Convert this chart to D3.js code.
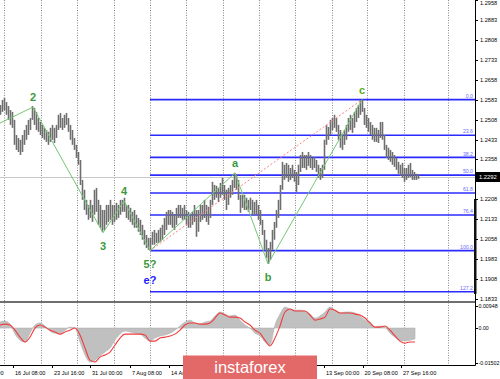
<!DOCTYPE html>
<html><head><meta charset="utf-8">
<script src="https://cdn.jsdelivr.net/npm/d3@7"></script>
<style>body{margin:0;background:#fff}svg{display:block}text{font-family:"Liberation Sans",Arial,sans-serif}</style>
</head><body><svg id="c" width="500" height="379"></svg>
<script>
// H4 bars (every 2nd bar sampled), high / low prices
const barHigh = [
1.2563,1.2582,1.2590,1.2574,1.2559,1.2544,1.2537,1.2507,1.2450,1.2439,
1.2432,1.2450,1.2469,1.2488,1.2507,1.2514,1.2559,1.2552,1.2537,1.2514,
1.2499,1.2488,1.2477,1.2469,1.2462,1.2477,1.2488,1.2477,1.2488,1.2526,
1.2533,1.2514,1.2526,1.2533,1.2514,1.2488,1.2469,1.2439,1.2413,1.2386,
1.2356,1.2281,1.2244,1.2206,1.2187,1.2206,1.2187,1.2244,1.2251,1.2206,
1.2187,1.2168,1.2168,1.2187,1.2187,1.2206,1.2187,1.2187,1.2195,1.2187,
1.2206,1.2206,1.2214,1.2187,1.2187,1.2176,1.2161,1.2168,1.2150,1.2138,
1.2131,1.2112,1.2093,1.2074,1.2063,1.2063,1.2086,1.2093,1.2082,1.2093,
1.2101,1.2112,1.2138,1.2161,1.2168,1.2168,1.2161,1.2150,1.2176,1.2187,
1.2187,1.2176,1.2187,1.2168,1.2161,1.2150,1.2161,1.2187,1.2168,1.2168,
1.2187,1.2187,1.2206,1.2187,1.2180,1.2206,1.2274,1.2262,1.2259,1.2251,
1.2270,1.2289,1.2262,1.2244,1.2251,1.2262,1.2281,1.2308,1.2300,1.2281,
1.2225,1.2225,1.2225,1.2214,1.2206,1.2214,1.2206,1.2198,1.2206,1.2187,
1.2168,1.2131,1.2093,1.2056,1.2025,1.2048,1.2093,1.2123,1.2168,1.2206,
1.2262,1.2349,1.2338,1.2345,1.2338,1.2326,1.2338,1.2319,1.2311,1.2338,
1.2375,1.2386,1.2375,1.2375,1.2386,1.2375,1.2364,1.2368,1.2356,1.2338,
1.2326,1.2338,1.2432,1.2488,1.2480,1.2507,1.2514,1.2526,1.2514,1.2488,
1.2469,1.2450,1.2469,1.2488,1.2514,1.2526,1.2514,1.2537,1.2552,1.2563,
1.2582,1.2583,1.2552,1.2526,1.2514,1.2499,1.2488,1.2477,1.2477,1.2469,
1.2499,1.2499,1.2450,1.2413,1.2402,1.2394,1.2386,1.2375,1.2364,1.2349,
1.2338,1.2345,1.2326,1.2326,1.2338,1.2345,1.2319,1.2311,1.2304,1.2300];
const barLow = [
1.2526,1.2537,1.2544,1.2526,1.2507,1.2488,1.2477,1.2413,1.2394,1.2386,
1.2375,1.2386,1.2413,1.2432,1.2450,1.2469,1.2507,1.2488,1.2469,1.2462,
1.2450,1.2439,1.2432,1.2424,1.2413,1.2424,1.2432,1.2420,1.2439,1.2469,
1.2477,1.2469,1.2477,1.2488,1.2462,1.2432,1.2413,1.2394,1.2364,1.2338,
1.2262,1.2206,1.2168,1.2150,1.2131,1.2138,1.2123,1.2150,1.2161,1.2112,
1.2101,1.2086,1.2093,1.2112,1.2123,1.2131,1.2112,1.2123,1.2131,1.2138,
1.2150,1.2161,1.2161,1.2138,1.2131,1.2123,1.2112,1.2101,1.2101,1.2086,
1.2074,1.2056,1.2037,1.2025,1.2018,1.2014,1.2037,1.2037,1.2044,1.2044,
1.2048,1.2056,1.2074,1.2093,1.2112,1.2112,1.2101,1.2093,1.2112,1.2138,
1.2138,1.2131,1.2131,1.2112,1.2101,1.2101,1.2112,1.2123,1.2067,1.2086,
1.2123,1.2131,1.2138,1.2123,1.2112,1.2138,1.2187,1.2206,1.2214,1.2198,
1.2214,1.2225,1.2206,1.2168,1.2187,1.2214,1.2225,1.2251,1.2244,1.2206,
1.2157,1.2176,1.2168,1.2168,1.2161,1.2168,1.2150,1.2150,1.2150,1.2131,
1.2112,1.2074,1.2018,1.1988,1.1965,1.1980,1.2018,1.2056,1.2101,1.2138,
1.2168,1.2244,1.2281,1.2289,1.2274,1.2281,1.2289,1.2274,1.2236,1.2262,
1.2311,1.2326,1.2326,1.2319,1.2334,1.2326,1.2319,1.2326,1.2311,1.2289,
1.2281,1.2289,1.2319,1.2413,1.2432,1.2450,1.2469,1.2477,1.2462,1.2432,
1.2402,1.2394,1.2413,1.2432,1.2462,1.2469,1.2458,1.2477,1.2499,1.2514,
1.2526,1.2537,1.2488,1.2477,1.2462,1.2450,1.2432,1.2424,1.2424,1.2420,
1.2439,1.2432,1.2394,1.2364,1.2356,1.2349,1.2338,1.2330,1.2319,1.2304,
1.2296,1.2289,1.2274,1.2281,1.2289,1.2292,1.2281,1.2281,1.2281,1.2285];
const barStep = 1;
const currentPrice = 1.2292;

// MACD (sampled every 2.5 bar units)
const macdHist = [
0.0026,0.0030,0.0017,-0.0026,-0.0052,-0.0060,-0.0022,0.0013,0.0022,0.0009,
-0.0013,-0.0022,-0.0022,-0.0009,0.0004,0.0000,-0.0060,-0.0116,-0.0146,-0.0138,
-0.0120,-0.0103,-0.0086,-0.0052,-0.0026,-0.0013,-0.0017,-0.0022,-0.0026,-0.0043,
-0.0056,-0.0043,-0.0034,-0.0030,-0.0022,-0.0009,0.0009,0.0026,0.0034,0.0022,
0.0017,0.0026,0.0030,0.0052,0.0069,0.0060,0.0052,0.0056,0.0034,0.0013,
0.0000,-0.0022,-0.0034,-0.0060,-0.0073,0.0013,0.0060,0.0090,0.0082,0.0077,
0.0077,0.0073,0.0060,0.0043,0.0052,0.0069,0.0090,0.0077,0.0065,0.0069,
0.0069,0.0065,0.0052,0.0034,0.0026,0.0004,0.0009,0.0004,-0.0022,-0.0039,
-0.0052,-0.0056,-0.0052,-0.0047];
const macdSignal = [
0.0013,0.0017,0.0013,-0.0009,-0.0039,-0.0060,-0.0039,0.0000,0.0013,0.0004,
-0.0009,-0.0017,-0.0026,-0.0017,-0.0009,0.0000,-0.0030,-0.0086,-0.0138,-0.0146,
-0.0125,-0.0116,-0.0103,-0.0073,-0.0043,-0.0026,-0.0026,-0.0026,-0.0026,-0.0030,
-0.0056,-0.0056,-0.0043,-0.0039,-0.0034,-0.0026,-0.0009,0.0013,0.0022,0.0022,
0.0017,0.0017,0.0022,0.0043,0.0065,0.0056,0.0047,0.0047,0.0043,0.0026,
0.0013,-0.0009,-0.0022,-0.0052,-0.0077,-0.0043,0.0009,0.0069,0.0082,0.0073,
0.0073,0.0073,0.0056,0.0034,0.0039,0.0047,0.0082,0.0077,0.0065,0.0065,
0.0065,0.0060,0.0056,0.0043,0.0022,0.0004,0.0004,0.0009,-0.0009,-0.0034,
-0.0056,-0.0065,-0.0060,-0.0060];
const macdStep = 2.5;

// Elliott wave points (bar index, price) and labels
const waveIdx   = [0, 16.5, 51.5, 62, 75, 117.5, 134, 181];
const wavePrice = [1.2495, 1.2555, 1.2082, 1.2202, 1.2015, 1.2307, 1.1965, 1.2583];
const waveLabels = ["", "2", "3", "4", "5?", "a", "b", "c"];
const waveLabelPos = ["", "up", "down", "up", "down", "up", "down", "up"];

// Fibonacci
const fibLevels = [0, 23.6, 38.2, 50, 61.8, 76.4, 100, 127.2];
const fibHigh = 1.2583, fibLow = 1.2015, fibStartIdx = 75;

// Axes
const priceTicks = [1.2958,1.2883,1.2808,1.2733,1.2658,1.2583,1.2508,1.2433,1.2358,1.2208,1.2133,1.2058,1.1983,1.1908,1.1833];
const macdTicks = [0.00948, 0.00, -0.01502];
const macdTickLabels = ["0.00948", "0.00", "-0.01502"];
const gridIdx = [2, 20.35, 38.5, 57, 75, 93, 111.5, 129.5, 147.5, 166, 183.5, 202, 224];
const dateIdx = [-1.5, 6.5, 26, 45, 65, 84.5, 162, 181.25, 200.5];
const dateLabels = ["9 Jul 00:00","16 Jul 08:00","23 Jul 16:00","31 Jul 00:00","7 Aug 08:00","14 Aug 16:00","13 Sep 00:00","20 Sep 08:00","27 Sep 16:00"];

const svg = d3.select("#c");
const W = 475, mainB = 301, macdTop = 303, macdB = 365;
const xS = d3.scaleLinear().domain([0, 237.5]).range([0, 475]);
const yS = d3.scaleLinear().domain([1.1833, 1.2958]).range([299, 0]);
const mS = d3.scaleLinear().domain([-0.01502, 0.00948]).range([363, 306]);

svg.append("defs").append("clipPath").attr("id","cm").append("rect").attr("x",0).attr("y",0).attr("width",W).attr("height",mainB);
svg.select("defs").append("clipPath").attr("id","cb").append("rect").attr("x",0).attr("y",macdTop).attr("width",W).attr("height",macdB-macdTop);

// grid
svg.append("g").selectAll("line").data(gridIdx).join("line")
  .attr("x1", d => Math.round(xS(d)) + 0.5).attr("x2", d => Math.round(xS(d)) + 0.5)
  .attr("y1", 0).attr("y2", macdB)
  .attr("stroke", "#8a8a8a").attr("stroke-width", 1).attr("stroke-dasharray", "1,1.5");

const main = svg.append("g").attr("clip-path", "url(#cm)");
main.append("line").attr("x1",0).attr("x2",W).attr("y1",Math.round(yS(currentPrice))+0.5).attr("y2",Math.round(yS(currentPrice))+0.5)
  .attr("stroke","#c8c8c8").attr("stroke-width",1);

const fibPrice = l => fibHigh - (fibHigh - fibLow) * l / 100;
main.append("g").selectAll("line").data(fibLevels).join("line")
  .attr("x1", xS(fibStartIdx)).attr("x2", W)
  .attr("y1", d => yS(fibPrice(d))).attr("y2", d => yS(fibPrice(d)))
  .attr("stroke", "#2b2bff").attr("stroke-width", 1.6);
main.append("g").selectAll("text").data(fibLevels).join("text")
  .attr("x", W - 2).attr("y", d => yS(fibPrice(d)) - 1.8)
  .attr("text-anchor","end").attr("font-size", 5.2).attr("fill", "#6c6cff")
  .text(d => d.toFixed(1));

// bars
main.append("g").selectAll("line").data(barHigh).join("line")
  .attr("x1", (d,i) => xS(i*barStep)+0.5).attr("x2", (d,i) => xS(i*barStep)+0.5)
  .attr("y1", d => yS(d)).attr("y2", (d,i) => yS(barLow[i]))
  .attr("stroke", "#6e6e6e").attr("stroke-width", 1.6);

main.append("line")
  .attr("x1", xS(waveIdx[4])).attr("y1", yS(wavePrice[4]))
  .attr("x2", xS(waveIdx[7])).attr("y2", yS(wavePrice[7]))
  .attr("stroke", "#ff8080").attr("stroke-width", 1).attr("stroke-dasharray", "2,2");

const wpts = waveIdx.map((d,i) => [xS(d), yS(wavePrice[i])]);
main.append("path").attr("d", d3.line()(wpts)).attr("fill","none").attr("stroke","#72c872").attr("stroke-width",1);

const wl = svg.append("g");
waveLabels.forEach((t,i) => {
  if (!t) return;
  const up = waveLabelPos[i] === "up";
  wl.append("text").attr("x", xS(waveIdx[i])).attr("y", yS(wavePrice[i]) + (up ? -6 : 17))
    .attr("text-anchor","middle").attr("font-size", 11).attr("font-weight","bold")
    .attr("fill", t === "c" ? "#5aa820" : "#3a9a3a").text(t);
});
wl.append("text").attr("x", xS(waveIdx[4])).attr("y", yS(wavePrice[4]) + 33)
  .attr("text-anchor","middle").attr("font-size", 11).attr("font-weight","bold")
  .attr("fill", "#2020ff").text("e?");

svg.append("rect").attr("x",0).attr("y",mainB).attr("width",W+1).attr("height",2).attr("fill","#6e6e6e");
svg.append("line").attr("x1",W+0.5).attr("x2",W+0.5).attr("y1",0).attr("y2",macdB+0.5).attr("stroke","#000");
svg.append("line").attr("x1",0).attr("x2",W+0.5).attr("y1",macdB+0.5).attr("y2",macdB+0.5).attr("stroke","#000");
svg.append("rect").attr("x",474).attr("y",199).attr("width",2.5).attr("height",95).attr("fill","#111");

const pa = svg.append("g");
pa.selectAll("line").data(priceTicks).join("line")
  .attr("x1",W).attr("x2",W+3).attr("y1",d=>Math.round(yS(d))+0.5).attr("y2",d=>Math.round(yS(d))+0.5).attr("stroke","#000");
pa.selectAll("text").data(priceTicks).join("text")
  .attr("x",W+5).attr("y",d=>Math.max(yS(d)+2, 5)).attr("font-size",5.6).attr("fill","#000")
  .text(d=>d.toFixed(4));
pa.append("rect").attr("x",W+1).attr("y",yS(currentPrice)-5).attr("width",24).attr("height",10).attr("fill","#000");
pa.append("text").attr("x",W+4).attr("y",yS(currentPrice)+2.2).attr("font-size",5.8).attr("fill","#fff").text(currentPrice.toFixed(4));

const mg = svg.append("g").attr("clip-path","url(#cb)");
mg.append("path").datum(macdHist)
  .attr("d", d3.area().x((d,j)=>xS(j*macdStep)).y0(mS(0)).y1(d=>mS(d)).curve(d3.curveMonotoneX))
  .attr("fill","#c0c0c0").attr("stroke","#b0b0b0").attr("stroke-width",0.6);
mg.append("path").datum(macdSignal)
  .attr("d", d3.line().x((d,j)=>xS(j*macdStep)).y(d=>mS(d)).curve(d3.curveMonotoneX))
  .attr("fill","none").attr("stroke","#f03c3c").attr("stroke-width",1.1);
const ma = svg.append("g");
ma.selectAll("line").data(macdTicks).join("line")
  .attr("x1",W).attr("x2",W+3).attr("y1",d=>Math.round(mS(d))+0.5).attr("y2",d=>Math.round(mS(d))+0.5).attr("stroke","#000");
ma.selectAll("text").data(macdTicks).join("text")
  .attr("x",W+3.5).attr("y",d=>mS(d)+2).attr("font-size",5.3).attr("fill","#000")
  .text((d,i)=>macdTickLabels[i]);

const da = svg.append("g");
da.selectAll("line").data(dateIdx).join("line")
  .attr("x1",d=>Math.round(xS(d))+0.5).attr("x2",d=>Math.round(xS(d))+0.5).attr("y1",macdB).attr("y2",macdB+3).attr("stroke","#000");
da.selectAll("text").data(dateIdx).join("text")
  .attr("x",(d,i)=> i===0 ? 3.5 : xS(d)+2).attr("y",375)
  .attr("text-anchor",(d,i)=> i===0 ? "end" : "start")
  .attr("font-size",5.6).attr("fill","#000").text((d,i)=>dateLabels[i]);

svg.append("rect").attr("x",183).attr("y",355.5).attr("width",134).attr("height",24).attr("fill","#e36868");
svg.append("text").attr("x",250).attr("y",373).attr("text-anchor","middle")
  .attr("font-family","'Open Sans',Lato,sans-serif").attr("font-size",16.5).attr("fill","#fff").text("instaforex");
</script></body></html>
